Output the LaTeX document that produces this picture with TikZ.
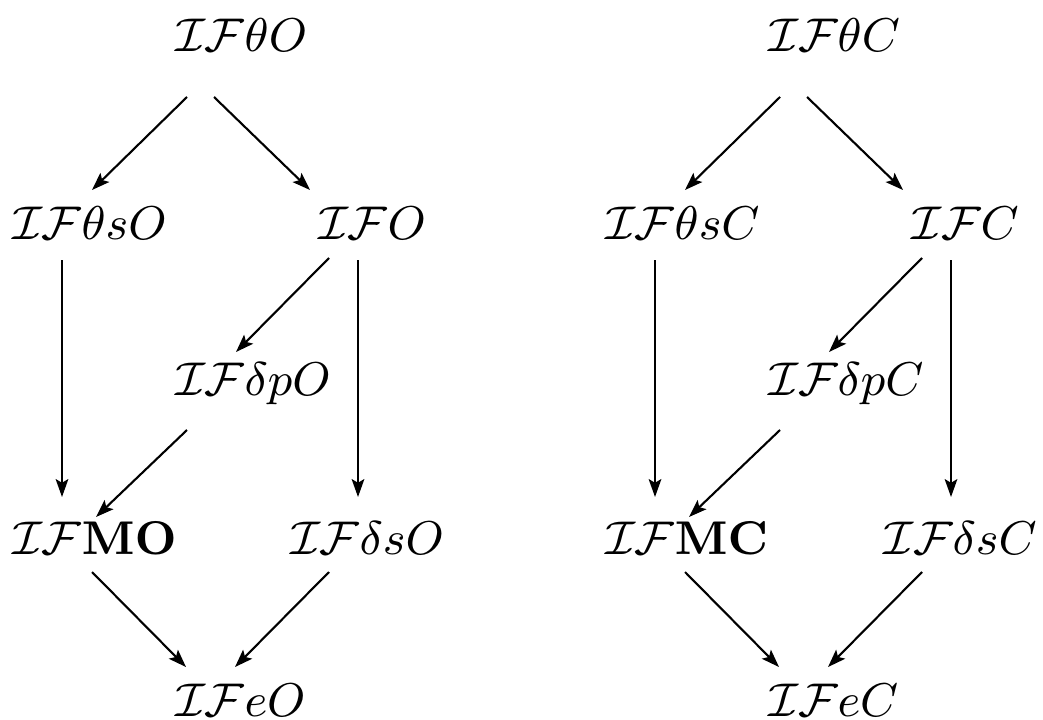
\documentclass[tikz,border=0pt]{standalone}
\usetikzlibrary{arrows.meta}
\begin{document}
\begin{tikzpicture}[x=0.19pt,y=-0.19pt,
  lbl/.style={anchor=base west,inner sep=0pt,outer sep=0pt,font=\fontsize{9.5pt}{11pt}\selectfont},
  arr/.style={-{Stealth[length=3.4pt,width=2.4pt,inset=0.7pt]},line width=0.4pt}]
\useasboundingbox (0,0) rectangle (1043,719);
\foreach \dx/\L/\n in {0/O/l,593/C/r}{
  \begin{scope}[shift={(\dx,0)}]
    \node[lbl] (\n t)  at (175,52)  {$\mathcal{IF}\theta \L$};
    \node[lbl] (\n ts) at (12,239)  {$\mathcal{IF}\theta s\L$};
    \node[lbl] (\n f)  at (318,239) {$\mathcal{IF}\L$};
    \node[lbl] (\n dp) at (175,395) {$\mathcal{IF}\delta p\L$};
    \node[lbl] (\n m)  at (12,554)  {$\mathcal{IF}\mathbf{M\L}$};
    \node[lbl] (\n ds) at (290,554) {$\mathcal{IF}\delta s\L$};
    \node[lbl] (\n e)  at (175,716) {$\mathcal{IF}e\L$};
  \end{scope}
  \draw[arr] ([shift={(12,45)}]\n t.base west) -- ([shift={(80,-49)}]\n ts.base west);
  \draw[arr] ([shift={(39,45)}]\n t.base west) -- ([shift={(-8,-49)}]\n f.base west);
  \draw[arr] ([shift={(50,21)}]\n ts.base west) -- ([shift={(50,-57)}]\n m.base west);
  \draw[arr] ([shift={(11,19)}]\n f.base west) -- ([shift={(61,-43)}]\n dp.base west);
  \draw[arr] ([shift={(40,21)}]\n f.base west) -- ([shift={(68,-57)}]\n ds.base west);
  \draw[arr] ([shift={(12,35)}]\n dp.base west) -- ([shift={(84,-37)}]\n m.base west);
  \draw[arr] ([shift={(80,18)}]\n m.base west) -- ([shift={(11,-49)}]\n e.base west);
  \draw[arr] ([shift={(39,18)}]\n ds.base west) -- ([shift={(60,-49)}]\n e.base west);
}
\end{tikzpicture}
\end{document}
